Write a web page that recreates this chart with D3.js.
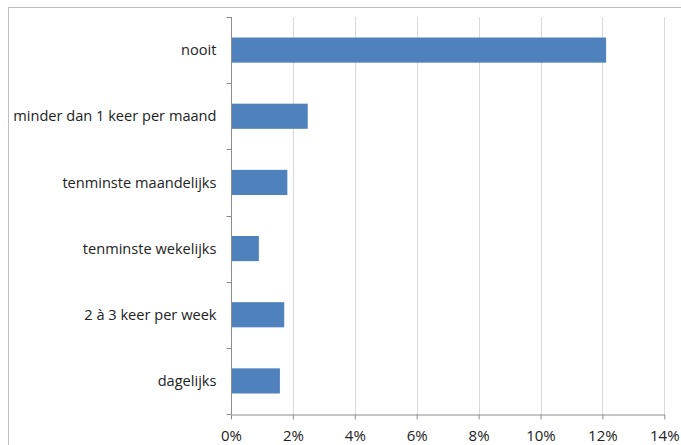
<!DOCTYPE html>
<html><head><meta charset="utf-8">
<script src="https://cdn.jsdelivr.net/npm/d3@7"></script>
<style>body{margin:0;background:#fff}svg{display:block}</style>
</head><body>
<script>
const categories = ["nooit","minder dan 1 keer per maand","tenminste maandelijks","tenminste wekelijks","2 à 3 keer per week","dagelijks"];
const values = [0.1212, 0.0248, 0.0182, 0.0090, 0.0172, 0.0158];
const xTicks = [0,0.02,0.04,0.06,0.08,0.10,0.12,0.14];

const W=681,H=445;
const svg=d3.select("body").append("svg").attr("width",W).attr("height",H);
svg.append("rect").attr("x",8.5).attr("y",7.5).attr("width",W).attr("height",H).attr("fill","#fff").attr("stroke","#bfbfbf").attr("stroke-width",1);

const x=d3.scaleLinear().domain([0,0.14]).range([231,664.3]);
const y=d3.scaleBand().domain(categories).range([17,414]).paddingInner(0.62).paddingOuter(0.31);
const font="'Open Sans', sans-serif";

// gridlines
svg.append("g").selectAll("line").data(xTicks.slice(1)).join("line")
  .attr("x1",d=>Math.round(x(d))+0.5).attr("x2",d=>Math.round(x(d))+0.5)
  .attr("y1",17).attr("y2",414).attr("stroke","#d9d9d9");

// bars
svg.append("g").selectAll("rect").data(categories).join("rect")
  .attr("x",x(0)).attr("y",d=>y(d)).attr("height",y.bandwidth())
  .attr("width",(d,i)=>x(values[i])-x(0)).attr("fill","#4f81bd");

// x axis
const xa=svg.append("g").attr("transform","translate(0,414.5)")
  .call(d3.axisBottom(x).tickValues(xTicks).tickFormat(d3.format(".0%")).tickSizeOuter(0).tickSizeInner(5));
xa.select(".domain").attr("stroke","#8c8c8c");
xa.selectAll(".tick line").attr("stroke","#8c8c8c");
xa.selectAll("text").attr("font-family",font).attr("font-size",15).attr("fill","#222").attr("dy","0.71em").attr("y",16);

// y axis
const ya=svg.append("g").attr("transform","translate(231.5,0)");
ya.append("line").attr("x1",0).attr("x2",0).attr("y1",17).attr("y2",414).attr("stroke","#8c8c8c");
const bounds=d3.range(categories.length+1).map(i=>17+i*(397/categories.length));
ya.selectAll("line.t").data(bounds).join("line").attr("class","t")
  .attr("x1",-5).attr("x2",0).attr("y1",d=>Math.round(d)+0.5).attr("y2",d=>Math.round(d)+0.5).attr("stroke","#8c8c8c");
ya.selectAll("text").data(categories).join("text")
  .attr("x",-15).attr("y",d=>y(d)+y.bandwidth()/2).attr("dy","0.35em")
  .attr("text-anchor","end").attr("font-family",font).attr("font-size",14.6).attr("fill","#222").text(d=>d);
</script>
</body></html>
